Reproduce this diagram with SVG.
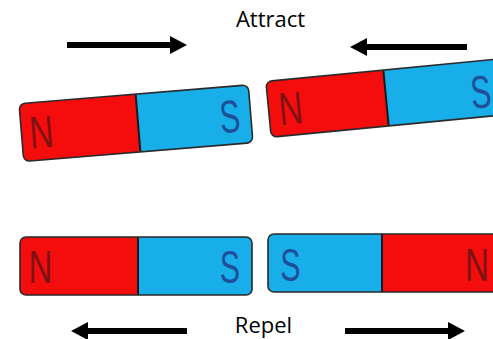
<svg xmlns="http://www.w3.org/2000/svg" width="493" height="339" viewBox="0 0 493 339">
<defs>
<style>
.n{fill:#f50d0d;}
.s{fill:#17aee9;}
.edge{fill:none;stroke:#2a2a2a;stroke-width:1.6;}
.div{stroke:#1a1a1a;stroke-width:2;}
.ln{font-family:"Liberation Sans",Arial,sans-serif;font-size:46px;text-anchor:middle;}
.ln.nl{fill:#7d1212;}
.ln.sl{fill:#1f4f98;}
.lbl{font-family:"Open Sans","Liberation Sans",sans-serif;font-size:22px;fill:#000;text-anchor:middle;}
.arr{stroke:#000;stroke-width:6;fill:none;marker-end:url(#head);}
</style>
<marker id="head" viewBox="0 0 17 18" refX="1" refY="9" markerWidth="17" markerHeight="18" markerUnits="userSpaceOnUse" orient="auto">
<path d="M0,0 L17,9 L0,18 Z" fill="#000"/>
</marker>
<clipPath id="c1"><rect x="21" y="94" width="230" height="58" rx="6"/></clipPath>
<clipPath id="c2"><rect x="268" y="70" width="236" height="56" rx="6"/></clipPath>
<clipPath id="c3"><rect x="20" y="237" width="232" height="58" rx="6"/></clipPath>
<clipPath id="c4"><rect x="268" y="234" width="240" height="58" rx="6"/></clipPath>
</defs>
<rect width="493" height="339" fill="#fff"/>

<g id="magnet-top-left" transform="rotate(-4.7 138 123)">
<g clip-path="url(#c1)">
<rect class="n" x="21" y="94" width="117" height="58"/>
<rect class="s" x="138" y="94" width="113" height="58"/>
</g>
<line class="div" x1="138" y1="94" x2="138" y2="152"/>
<rect class="edge" x="21" y="94" width="230" height="58" rx="6"/>
<text class="ln nl" transform="translate(41 140) scale(0.72 1)">N</text>
<text class="ln sl" transform="translate(230 140) scale(0.66 1)">S</text>
</g>

<g id="magnet-top-right" transform="rotate(-5.5 386 98)">
<g clip-path="url(#c2)">
<rect class="n" x="268" y="70" width="118" height="56"/>
<rect class="s" x="386" y="70" width="118" height="56"/>
</g>
<line class="div" x1="386" y1="70" x2="386" y2="126"/>
<rect class="edge" x="268" y="70" width="236" height="56" rx="6"/>
<text class="ln nl" transform="translate(290 115) scale(0.72 1)">N</text>
<text class="ln sl" transform="translate(481 117) scale(0.66 1)">S</text>
</g>

<g id="magnet-bottom-left">
<g clip-path="url(#c3)">
<rect class="n" x="20" y="237" width="118" height="58"/>
<rect class="s" x="138" y="237" width="114" height="58"/>
</g>
<line class="div" x1="138" y1="237" x2="138" y2="295"/>
<rect class="edge" x="20" y="237" width="232" height="58" rx="6"/>
<text class="ln nl" transform="translate(40.5 283) scale(0.72 1)">N</text>
<text class="ln sl" transform="translate(230 283) scale(0.66 1)">S</text>
</g>

<g id="magnet-bottom-right">
<g clip-path="url(#c4)">
<rect class="s" x="268" y="234" width="114" height="58"/>
<rect class="n" x="382" y="234" width="126" height="58"/>
</g>
<line class="div" x1="382" y1="234" x2="382" y2="292"/>
<rect class="edge" x="268" y="234" width="240" height="58" rx="6"/>
<text class="ln sl" transform="translate(290.5 281) scale(0.66 1)">S</text>
<text class="ln nl" transform="translate(477 281) scale(0.72 1)">N</text>
</g>

<g id="connectors">
<line class="arr" x1="67" y1="45" x2="171" y2="45"/>
<line class="arr" x1="467" y1="47" x2="366" y2="47"/>
<line class="arr" x1="187" y1="331" x2="87" y2="331"/>
<line class="arr" x1="345" y1="331" x2="449" y2="331"/>
</g>

<g id="labels">
<text class="lbl" x="270.5" y="27">Attract</text>
<text class="lbl" x="263.5" y="333">Repel</text>
</g>
</svg>
